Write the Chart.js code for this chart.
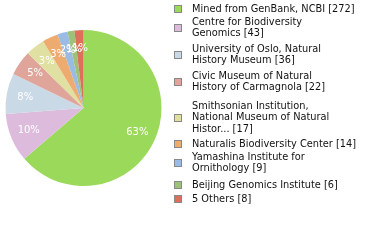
<!doctype html>
<html>
  <head>
    <style>
      body { margin: 0; background: #fff; }
    </style>
  </head>
  <body>
    <canvas id="myChart" width="380" height="240"></canvas>
  </body>
  <script src="https://cdn.jsdelivr.net/npm/chart.js"></script>
  <script>
    // depositories and specimen counts
    const labels = [
      ['Mined from GenBank, NCBI [272]'],
      ['Centre for Biodiversity', 'Genomics [43]'],
      ['University of Oslo, Natural', 'History Museum [36]'],
      ['Civic Museum of Natural', 'History of Carmagnola [22]'],
      ['Smithsonian Institution,', 'National Museum of Natural', 'Histor... [17]'],
      ['Naturalis Biodiversity Center [14]'],
      ['Yamashina Institute for', 'Ornithology [9]'],
      ['Beijing Genomics Institute [6]'],
      ['5 Others [8]']
    ];
    const counts = [272, 43, 36, 22, 17, 14, 9, 6, 8];
    const colors = ['#9bd95b', '#dcbbdd', '#cad9e6', '#dfa59b', '#dfe0a2',
                    '#eeab6f', '#9abbe2', '#9cc279', '#dc705a'];
    // y of first text line of each legend entry
    const legendY = [9, 22, 49, 76, 106, 144, 157, 185, 199];

    const total = counts.reduce((a, b) => a + b, 0);

    const sliceLabels = {
      id: 'sliceLabels',
      afterDatasetsDraw(chart) {
        const c = chart.ctx;
        const meta = chart.getDatasetMeta(0);
        c.save();
        c.fillStyle = '#fff';
        c.font = '10px "DejaVu Sans"';
        c.textAlign = 'center';
        c.textBaseline = 'middle';
        meta.data.forEach((arc, i) => {
          const p = arc.getProps(['x', 'y', 'startAngle', 'endAngle', 'outerRadius']);
          const a = (p.startAngle + p.endAngle) / 2;
          const r = p.outerRadius * 0.76;
          const pct = Math.floor(counts[i] / total * 100) + '%';
          c.fillText(pct, p.x + Math.cos(a) * r, p.y + Math.sin(a) * r);
        });
        c.restore();
      }
    };

    const sideLegend = {
      id: 'sideLegend',
      afterDraw(chart) {
        const c = chart.ctx;
        c.save();
        c.font = '9.8px "DejaVu Sans"';
        c.textBaseline = 'middle';
        c.textAlign = 'left';
        labels.forEach((lines, i) => {
          const y0 = legendY[i];
          const mid = y0 + (lines.length - 1) * 12 / 2;
          c.fillStyle = colors[i];
          c.fillRect(174, Math.round(mid) - 4, 8, 8);
          c.strokeStyle = '#888';
          c.lineWidth = 1;
          c.strokeRect(174.5, Math.round(mid) - 3.5, 7, 7);
          c.fillStyle = '#111';
          lines.forEach((t, j) => c.fillText(t, 192, y0 + j * 11.5));
        });
        c.restore();
      }
    };

    const ctx = document.getElementById('myChart');
    const chart = new Chart(ctx, {
      type: 'pie',
      data: {
        labels: labels.map(l => l.join(' ')),
        datasets: [{
          data: counts,
          backgroundColor: colors,
          borderWidth: 0
        }]
      },
      options: {
        responsive: false,
        animation: false,
        layout: { padding: { left: 5, top: 30, right: 218, bottom: 54 } },
        plugins: {
          legend: { display: false },
          tooltip: { enabled: false }
        }
      },
      plugins: [sliceLabels, sideLegend]
    });
  </script>
</html>
